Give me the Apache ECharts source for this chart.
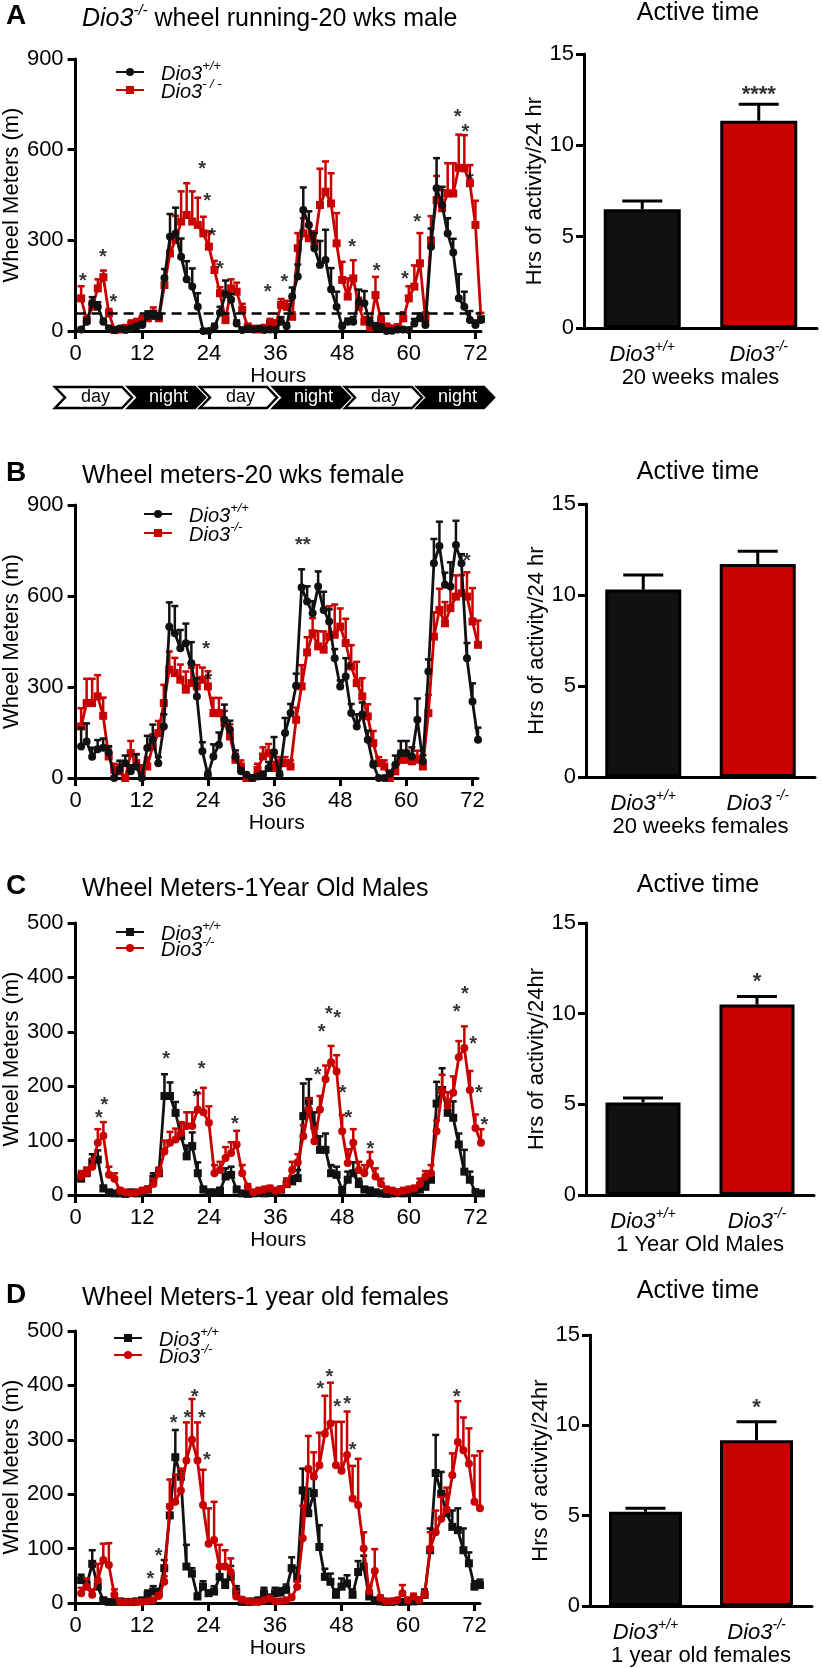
<!DOCTYPE html>
<html>
<head>
<meta charset="utf-8">
<title>Dio3 wheel running</title>
<script src="https://cdn.jsdelivr.net/npm/echarts@6.0.0/dist/echarts.min.js"></script>
<style>
  html, body { margin: 0; padding: 0; background: #fff; }
  #chart { width: 822px; height: 1668px; }
</style>
</head>
<body>
<div id="chart"></div>
<script>
// hour of each reading
const hours = [1,2,3,4,5,6,7,8,9,10,11,12,13,14,15,16,17,18,19,20,21,22,23,24,25,26,27,28,29,30,
  31,32,33,34,35,36,37,38,39,40,41,42,43,44,45,46,47,48,49,50,51,52,53,54,55,56,57,58,59,60,
  61,62,63,64,65,66,67,68,69,70,71,72,73];

// A - 20 wks male
const A_wt = [5,31,92,80,31,9,3,8,3,8, 15,20,50,50,47,175,312,323,246,171, 147,80,0,0,14,60,122,103,25,3,
  8,5,8,3,5,3,31,16,114,180, 400,351,274,218,235,138,80,16,31,31, 97,92,28,16,12,0,1,5,5,3,
  25,42,20,279,472,417,323,260,108,80, 36,20,36];
const A_wtErr = [5,10,20,15,10,5,3,5,3,5, 8,10,15,15,10,30,75,85,60,60, 60,45,5,5,10,20,45,20,10,3,
  5,3,5,3,3,3,15,10,30,40, 75,45,50,80,100,70,50,10,10,15, 40,40,15,10,8,3,3,3,3,3,
  15,15,10,60,100,60,50,45,80,50, 30,15,10];
const A_ko = [108,36,80,141,178,58,3,5,10,20, 25,35,42,58,42,152,257,301,362,384, 362,351,323,279,202,125,36,141,130,70,
  14,8,5,10,25,20,86,80,47,274, 323,307,290,417,461,422,290,169,114,174, 80,31,12,119,36,14,9,12,42,108,
  147,224,42,300,433,406,455,455,540,538, 489,351,40];
const A_koErr = [40,10,20,30,22,15,3,5,10,15, 15,15,15,20,15,25,60,80,100,105, 100,90,55,50,30,20,15,30,30,20,
  10,5,5,10,15,15,20,20,15,50, 50,40,40,120,100,100,100,60,60,60, 30,15,10,60,15,10,5,10,20,40,
  70,100,20,80,80,60,100,100,110,110, 60,80,20];
const A_threshold = 60;
const A_stars = [[1.3,185],[4.9,262],[6.8,114],[22.8,553],[23.7,450],[24.6,331],[26,224],[34.6,146],
  [37.6,180],[49.8,296],[54.2,218],[59.3,191],[61.5,378],[68.8,726],[70.2,678],[71,518]];

// B - 20 wks female
const B_wt = [104,120,70,95,100,85,0,27,49,22, 38,0,99,126,49,170,499,477,428,444, 378,269,88,11,71,110,192,159,71,22,
  11,0,5,11,33,85,11,148,214,304, 628,582,543,631,554,516,395,302,335,214, 170,209,126,44,0,0,14,44,82,82,
  71,192,55,351,708,765,637,631,768,708, 395,252,126];
const B_wtErr = [60,60,30,30,30,20,5,30,25,20, 40,5,40,50,20,40,80,90,60,65, 70,60,30,10,40,40,50,30,20,10,
  5,5,5,10,20,50,10,50,30,40, 60,50,40,50,60,40,30,20,60,30, 40,40,30,10,3,3,10,30,40,40,
  30,70,20,40,80,80,40,80,80,30, 50,60,40];
const B_ko = [170,247,247,269,205,71,27,22,0,82, 49,22,38,104,148,247,357,346,324,291, 313,302,324,302,214,214,181,137,60,38,
  0,0,27,71,82,33,49,49,38,192, 302,414,477,434,423,466,472,499,445,368, 313,269,203,115,49,38,0,22,60,60,
  55,60,38,214,466,554,510,560,598,609, 598,516,439];
const B_koErr = [60,80,80,70,60,30,20,20,5,40, 30,20,30,40,40,60,60,50,50,60, 50,70,40,50,50,50,40,40,20,20,
  5,5,20,30,30,20,20,20,20,40, 70,50,50,50,60,100,100,60,80,70, 70,60,40,40,20,20,5,20,30,30,
  20,30,20,60,80,70,70,70,70,60, 80,110,80];
const B_stars = [[23.7,445],[24.1,342],[41.2,785,'**'],[49.6,373],[71,732]];

// C - 1 year old males
const C_wt = [30,40,60,65,12,5,3,3,2,5, 3,5,10,30,40,182,182,151,108,71, 90,40,10,5,5,8,34,37,10,3,
  2,3,5,3,5,6,10,20,25,31, 145,173,127,83,83,40,37,9,28,40, 20,10,8,5,3,2,3,5,3,5,
  8,10,15,28,168,193,151,142,93,43, 28,5,3];
const C_wtErr = [10,10,15,17,5,3,2,2,2,3, 2,3,5,10,10,40,25,20,25,20, 25,20,5,3,3,5,15,15,5,2,
  2,2,3,2,3,3,5,10,10,15, 60,40,25,25,30,15,15,5,15,20, 10,5,5,3,2,2,2,3,2,3,
  5,5,10,10,40,40,20,30,20,40, 15,5,3];
const C_ko = [34,40,52,96,109,37,30,8,5,3, 5,8,10,20,40,80,96,102,114,127, 127,157,152,133,40,46,68,77,93,40,
  15,5,8,10,12,8,10,20,46,60, 108,157,99,157,213,244,227,117,59,96, 46,40,59,34,20,10,8,5,8,10,
  12,20,34,40,117,191,164,188,253,270, 193,123,96];
const C_koErr = [10,10,15,25,25,15,10,5,3,2, 3,5,5,10,10,20,20,20,20,25, 25,30,45,30,15,15,20,20,25,15,
  5,3,5,5,5,5,5,10,15,15, 20,20,25,25,25,30,30,30,25,25, 15,15,20,15,10,5,5,3,5,5,
  5,10,10,15,20,30,25,30,30,40, 35,25,25];
const C_stars = [[4.2,151],[5.2,176],[16.3,261],[21.7,190],[22.7,242],[28.7,140],[43.6,231],[44.3,309],
  [45.6,343],[47.1,336],[48.1,198],[49.1,151],[53.1,94],[68.6,346],[70.1,380],[71.6,287],[72.6,198],[73.6,138]];

// D - 1 year old females
const D_wt = [42,33,72,30,5,2,2,3,2,2, 3,5,15,21,18,64,161,268,232,67, 54,12,30,18,21,48,33,48,21,2,
  2,3,5,18,10,18,19,24,64,45, 207,165,202,103,48,39,15,30,36,15, 57,67,12,5,3,2,2,3,2,3,
  3,5,15,97,239,201,165,140,134,97, 73,30,33];
const D_wtErr = [10,10,25,10,3,2,2,2,2,2, 2,3,8,10,8,15,20,50,10,40, 10,5,10,5,10,20,10,20,10,2,
  2,2,3,10,5,10,8,10,20,20, 40,45,30,40,15,15,10,15,15,10, 20,20,5,3,2,2,2,2,2,2,
  2,3,10,40,70,40,35,30,40,40, 20,10,10];
const D_ko = [18,30,15,42,79,70,15,2,2,2, 2,2,3,5,13,39,177,186,207,262, 300,262,180,109,116,67,67,57,12,6,
  3,2,2,5,8,3,3,5,10,30, 119,247,232,253,311,330,253,243,272,192, 180,100,21,59,9,3,3,5,18,5,
  12,5,15,100,130,155,172,235,296,281, 256,186,174];
const D_koErr = [10,15,10,30,30,40,10,2,2,2, 2,2,2,3,5,10,50,50,40,70, 75,70,65,65,70,40,30,25,10,5,
  2,2,2,3,5,2,2,3,5,10, 60,60,45,60,70,75,80,90,80,60, 85,30,10,40,5,2,2,3,15,3,
  5,3,5,30,40,40,40,40,75,60, 65,85,105];
const D_stars = [[13.5,54],[15,96],[17.7,341],[20.2,350],[21.5,388],[22.8,351],[23.7,273],[44.2,403],
  [45.8,426],[47.2,371],[49,376],[50,292],[68.8,388]];

// active time bars: [Dio3+/+, Dio3-/-]
const barA_mean = [6.5, 11.35], barA_err = [0.45, 0.9], barA_stars = [[1, 13.1, '****']];
const barB_mean = [10.3, 11.7], barB_err = [0.8, 0.7], barB_stars = [];
const barC_mean = [5.1, 10.5], barC_err = [0.25, 0.45], barC_stars = [[1, 12.1, '*']];
const barD_mean = [5.22, 9.17], barD_err = [0.2, 1.03], barD_stars = [[1, 11.3, '*']];

const dayNight = ['day', 'night', 'day', 'night', 'day', 'night'];
const hourTicks = [0, 12, 24, 36, 48, 60, 72];

const FONT = '"Liberation Sans", Arial, sans-serif';
const RED = '#c80000';
const BLK = '#111111';

function supRich(size, sup) {
  const base = {fontFamily: FONT, fontWeight: 'normal', color: '#000'};
  return {
    g: {width: 12, fontSize: size},
    i: Object.assign({fontStyle: 'italic', fontSize: size, lineHeight: size + 4, verticalAlign: 'bottom'}, base),
    s: Object.assign({fontStyle: 'italic', fontSize: sup, lineHeight: sup, verticalAlign: 'top'}, base),
    n: Object.assign({fontSize: size, lineHeight: size + 4, verticalAlign: 'bottom'}, base)
  };
}

const linePanels = [
  {letter: 'A', grid: {left: 70, top: 59, width: 411, height: 272}, yMax: 900, yStep: 300,
   wt: A_wt, wtErr: A_wtErr, ko: A_ko, koErr: A_koErr, wtSym: 'circle', koSym: 'rect', redOnTop: false,
   stars: A_stars, legend: [115, 72, 90], koSup: '- / -', threshold: A_threshold,
   title: '{i|Dio3}{s|-/-}{n| wheel running-20 wks male}', titleY: 17},
  {letter: 'B', grid: {left: 69, top: 505, width: 409, height: 273}, yMax: 900, yStep: 300,
   wt: B_wt, wtErr: B_wtErr, ko: B_ko, koErr: B_koErr, wtSym: 'circle', koSym: 'rect', redOnTop: false,
   stars: B_stars, legend: [143, 514, 533], koSup: '-/-',
   title: '{n|Wheel meters-20 wks female}', titleY: 474},
  {letter: 'C', grid: {left: 71, top: 923, width: 410, height: 272}, yMax: 500, yStep: 100,
   wt: C_wt, wtErr: C_wtErr, ko: C_ko, koErr: C_koErr, wtSym: 'rect', koSym: 'circle', redOnTop: true,
   stars: C_stars, legend: [115, 932, 948], koSup: '-/-',
   title: '{n|Wheel Meters-1Year Old Males}', titleY: 887},
  {letter: 'D', grid: {left: 70, top: 1331, width: 410, height: 272}, yMax: 500, yStep: 100,
   wt: D_wt, wtErr: D_wtErr, ko: D_ko, koErr: D_koErr, wtSym: 'rect', koSym: 'circle', redOnTop: true,
   stars: D_stars, legend: [113, 1338, 1355], koSup: '-/-',
   title: '{n|Wheel Meters-1 year old females}', titleY: 1296}
];

const barPanels = [
  {grid: {left: 584, top: 54, width: 233, height: 274}, mean: barA_mean, err: barA_err, stars: barA_stars,
   xName: '20 weeks males', yName: 'Hrs of activity/24 hr', koSup: '-/-', barWidth: 77, titleY: 15},
  {grid: {left: 586, top: 504, width: 229, height: 273}, mean: barB_mean, err: barB_err, stars: barB_stars,
   xName: '20 weeks females', yName: 'Hrs of activity/24 hr', koSup: ' -/-', barWidth: 76, titleY: 474},
  {grid: {left: 586, top: 923, width: 228, height: 272}, mean: barC_mean, err: barC_err, stars: barC_stars,
   xName: '1 Year Old Males', yName: 'Hrs of activity/24hr', koSup: '-/-', barWidth: 75, titleY: 887},
  {grid: {left: 590, top: 1335, width: 222, height: 273}, mean: barD_mean, err: barD_err, stars: barD_stars,
   xName: '1 year old females', yName: 'Hrs of activity/24hr', koSup: '-/-', barWidth: 73, titleY: 1293}
];

const axisLine = {lineStyle: {color: '#000', width: 3}};
const axisTick = {length: 8, lineStyle: {color: '#000', width: 3}};

function errorRender(capW, width) {
  return function (params, api) {
    const x = api.value(0), y = api.value(1), e = api.value(2);
    const p0 = api.coord([x, y]);
    const p1 = api.coord([x, y + e]);
    const style = {stroke: api.visual('color'), lineWidth: width};
    return {
      type: 'group',
      children: [
        {type: 'line', shape: {x1: p0[0], y1: p0[1], x2: p1[0], y2: p1[1]}, style: style},
        {type: 'line', shape: {x1: p1[0] - capW / 2, y1: p1[1], x2: p1[0] + capW / 2, y2: p1[1]}, style: style}
      ]
    };
  };
}

function starSeries(idx, stars, size) {
  return {
    type: 'scatter', xAxisIndex: idx, yAxisIndex: idx, symbolSize: 1, clip: false, silent: true, z: 6,
    itemStyle: {color: 'rgba(0,0,0,0)'},
    label: {show: true, position: 'inside', formatter: '{b}', color: '#000', fontSize: size,
      fontWeight: 'bold', fontFamily: FONT, offset: [0, 6]},
    data: stars.map(s => ({name: s[2] || '*', value: [s[0], s[1]]}))
  };
}

const option = {
  animation: false,
  backgroundColor: '#fff',
  textStyle: {fontFamily: FONT, color: '#000'},
  title: [], legend: [], grid: [], xAxis: [], yAxis: [], series: [], graphic: []
};

linePanels.forEach((p, i) => {
  const wtName = p.letter + ' wt', koName = p.letter + ' ko';
  option.grid.push(p.grid);
  option.title.push({text: p.letter, left: 6, top: p.titleY - 15, padding: 0,
    textStyle: {fontSize: 28, fontWeight: 'bold', color: '#000', fontFamily: FONT}});
  option.title.push({text: p.title, left: 82, top: p.titleY - 14, padding: 0,
    textStyle: {fontWeight: 'normal', color: '#000', rich: supRich(25, 15)}});
  option.xAxis.push({
    gridIndex: i, type: 'value', min: 0, max: 73,
    axisLine: axisLine, axisTick: Object.assign({customValues: hourTicks}, axisTick),
    axisLabel: {customValues: hourTicks, fontSize: 22, color: '#000', margin: 12, fontFamily: FONT},
    splitLine: {show: false},
    name: 'Hours', nameLocation: 'middle', nameGap: 33,
    nameTextStyle: {fontSize: 21, color: '#000', fontFamily: FONT}
  });
  option.yAxis.push({
    gridIndex: i, type: 'value', min: 0, max: p.yMax, interval: p.yStep,
    axisLine: Object.assign({show: true}, axisLine), axisTick: Object.assign({show: true}, axisTick),
    axisLabel: {fontSize: 22, color: '#000', margin: 12, fontFamily: FONT},
    splitLine: {show: false},
    name: 'Wheel Meters (m)', nameLocation: 'middle', nameGap: 48,
    nameTextStyle: {fontSize: 22, color: '#000', fontFamily: FONT}
  });
  const mk = (name, vals, sym, color, z) => ({
    name: name, type: 'line', xAxisIndex: i, yAxisIndex: i, z: z,
    data: hours.map((h, k) => [h, vals[k]]),
    symbol: sym, symbolSize: 8, showSymbol: true,
    itemStyle: {color: color}, lineStyle: {color: color, width: 2.8}
  });
  const mkErr = (vals, errs, color, z) => ({
    type: 'custom', xAxisIndex: i, yAxisIndex: i, z: z, silent: true,
    itemStyle: {color: color},
    renderItem: errorRender(7, 2.5),
    data: hours.map((h, k) => [h, vals[k], errs[k]])
  });
  const zWt = p.redOnTop ? 3 : 5, zKo = p.redOnTop ? 5 : 3;
  option.series.push(mkErr(p.wt, p.wtErr, BLK, zWt - 1));
  option.series.push(mkErr(p.ko, p.koErr, RED, zKo - 1));
  const wtLine = mk(wtName, p.wt, p.wtSym, BLK, zWt);
  if (p.threshold) {
    wtLine.markLine = {silent: true, symbol: 'none', label: {show: false},
      lineStyle: {color: '#000', width: 2.5, type: [10, 6]}, data: [{yAxis: p.threshold}]};
  }
  option.series.push(wtLine);
  option.series.push(mk(koName, p.ko, p.koSym, RED, zKo));
  option.series.push(starSeries(i, p.stars, 20));

  const leg = (name, y, sup) => ({
    data: [name], left: p.legend[0], top: y - 12, padding: 0, itemWidth: 28, itemHeight: 10,
    selectedMode: false, formatter: () => '{g| }{i|Dio3}{s|' + sup + '}',
    textStyle: {rich: supRich(20, 13)}
  });
  option.legend.push(leg(wtName, p.legend[1], '+/+'));
  option.legend.push(leg(koName, p.legend[2], p.koSup));
});

barPanels.forEach((p, j) => {
  const i = j + 4;
  option.grid.push(p.grid);
  option.title.push({text: 'Active time', left: 698, top: p.titleY - 14,
    textAlign: 'center', padding: 0,
    textStyle: {fontSize: 25, fontWeight: 'normal', color: '#000', fontFamily: FONT}});
  option.xAxis.push({
    gridIndex: i, type: 'category', data: ['wt', 'ko'],
    axisLine: axisLine, axisTick: Object.assign({alignWithLabel: true}, axisTick),
    axisLabel: {margin: 12, formatter: v => v === 'wt' ? '{i|Dio3}{s|+/+}' : '{i|Dio3}{s|' + p.koSup + '}',
      rich: supRich(22, 14)},
    name: p.xName, nameLocation: 'middle', nameGap: 38,
    nameTextStyle: {fontSize: 22, color: '#000', fontFamily: FONT}
  });
  option.yAxis.push({
    gridIndex: i, type: 'value', min: 0, max: 15, interval: 5,
    axisLine: Object.assign({show: true}, axisLine), axisTick: Object.assign({show: true}, axisTick),
    axisLabel: {fontSize: 22, color: '#000', margin: 10, fontFamily: FONT},
    splitLine: {show: false},
    name: p.yName, nameLocation: 'middle', nameGap: 34,
    nameTextStyle: {fontSize: 22, color: '#000', fontFamily: FONT}
  });
  option.series.push({
    type: 'custom', xAxisIndex: i, yAxisIndex: i, z: 1, silent: true,
    itemStyle: {color: '#000'}, renderItem: errorRender(40, 3),
    data: p.mean.map((m, k) => [k, m, p.err[k]])
  });
  option.series.push({
    type: 'bar', xAxisIndex: i, yAxisIndex: i, barWidth: p.barWidth, z: 2,
    itemStyle: {borderColor: '#000', borderWidth: 3},
    data: p.mean.map((m, k) => ({value: m, itemStyle: {color: k === 0 ? BLK : RED}}))
  });
  option.series.push(starSeries(i, p.stars, 22));
});

// day / night chevrons under panel A
const chevX = [55, 128, 200, 273, 345, 417];
dayNight.forEach((t, k) => {
  const x0 = chevX[k], y0 = 387, w = 77, h = 21, d = 10;
  const night = t === 'night';
  option.graphic.push({
    type: 'polygon', z: 10,
    shape: {points: [[x0, y0], [x0 + w - d, y0], [x0 + w, y0 + h / 2], [x0 + w - d, y0 + h], [x0, y0 + h], [x0 + d, y0 + h / 2]]},
    style: {fill: night ? '#000' : '#fff', stroke: '#000', lineWidth: 2.5}
  });
  option.graphic.push({
    type: 'text', z: 11, x: x0 + w / 2 + 2, y: y0 + h / 2,
    style: {text: t, fill: night ? '#fff' : '#000', font: '18px ' + FONT, textAlign: 'center', textVerticalAlign: 'middle'}
  });
});

const chart = echarts.init(document.getElementById('chart'), null, {renderer: 'canvas'});
chart.setOption(option);
</script>
</body>
</html>
